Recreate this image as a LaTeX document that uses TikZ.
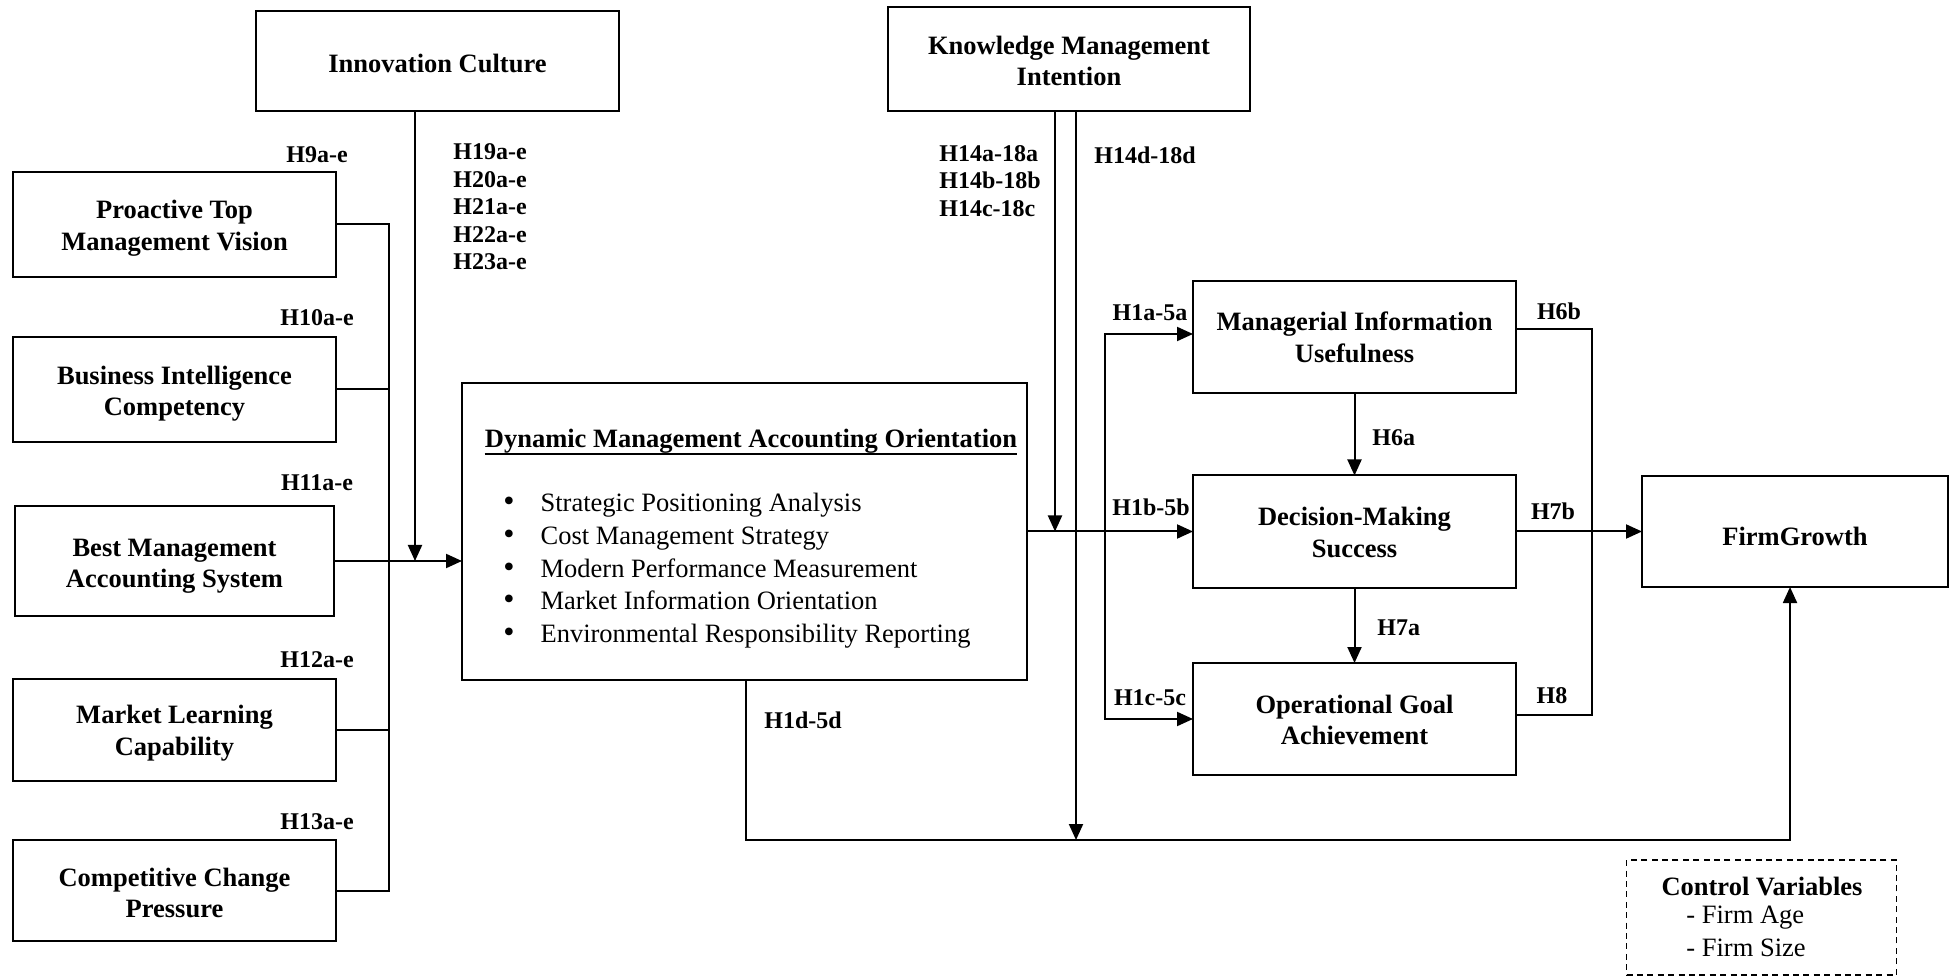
\documentclass[tikz,border=0pt]{standalone}
\usepackage{fontspec}
\setmainfont{Liberation Serif}
\usetikzlibrary{arrows.meta}
% a taller first line pushes box text a little below the box centre
\newcommand\boxlift[1]{\rule{0pt}{#1}}
\begin{document}
\begin{tikzpicture}[x=0.5pt,y=-0.5pt,
  box/.style={draw, line width=1pt, inner sep=0pt, outer sep=0pt, align=center,
    font={\fontsize{13.25pt}{15.8pt}\selectfont\bfseries}},
  hyp/.style={inner sep=0pt, align=left, font={\fontsize{12pt}{13.75pt}\selectfont\bfseries}},
  plain/.style={inner sep=0pt, align=left, font={\fontsize{13.25pt}{16.3pt}\selectfont}},
  link/.style={line width=1pt},
  arr/.style={link, -{Triangle[length=8pt,width=7pt]}}
]
\useasboundingbox (0,0) rectangle (1957,977);

% constructs
\node[box, minimum width=181.5pt, minimum height=50pt] (IC) at (437.5,61) {\boxlift{11.6pt}Innovation Culture};
\node[box, minimum width=181pt, minimum height=52pt] (KMI) at (1069,59) {\boxlift{11pt}Knowledge Management\\Intention};

\node[box, minimum width=161.5pt, minimum height=52.5pt] (P) at (174.5,224.5) {\boxlift{12.9pt}Proactive Top\\Management Vision};
\node[box, minimum width=161.5pt, minimum height=52.5pt] (BI) at (174.5,389.5) {\boxlift{13.5pt}Business Intelligence\\Competency};
\node[box, minimum width=159.5pt, minimum height=55pt] (BMAS) at (174.5,561) {\boxlift{14pt}Best Management\\Accounting System};
\node[box, minimum width=161.5pt, minimum height=51pt] (MLC) at (174.5,730) {\boxlift{12.2pt}Market Learning\\Capability};
\node[box, minimum width=161.5pt, minimum height=50.5pt] (CCP) at (174.5,890.5) {\boxlift{11.6pt}Competitive Change\\Pressure};

\node[box, minimum width=282.5pt, minimum height=148.5pt] (DMAO) at (744.5,531.5) {};
\node[inner sep=0pt, font={\fontsize{13.25pt}{15.8pt}\selectfont\bfseries}] (DMAOtitle) at (751,441.5)
  {Dynamic Management Accounting Orientation};
\draw[line width=1pt] (DMAOtitle.south west) -- (DMAOtitle.south east);
\node[plain, anchor=west] (DMAOlist) at (503,570.5)
  {\begin{tabular}{@{}l@{\hspace{13pt}}l@{}}
   {\fontsize{16pt}{16.3pt}\selectfont\textbullet} & Strategic Positioning Analysis\\
   {\fontsize{16pt}{16.3pt}\selectfont\textbullet} & Cost Management Strategy\\
   {\fontsize{16pt}{16.3pt}\selectfont\textbullet} & Modern Performance Measurement\\
   {\fontsize{16pt}{16.3pt}\selectfont\textbullet} & Market Information Orientation\\
   {\fontsize{16pt}{16.3pt}\selectfont\textbullet} & Environmental Responsibility Reporting
   \end{tabular}};

\node[box, minimum width=161.5pt, minimum height=56pt] (MIU) at (1354.5,337) {\boxlift{9.6pt}Managerial Information\\Usefulness};
\node[box, minimum width=161.5pt, minimum height=56pt] (DMS) at (1354.5,531.5) {\boxlift{10.3pt}Decision-Making\\Success};
\node[box, minimum width=161.5pt, minimum height=56pt] (OGA) at (1354.5,719) {\boxlift{10.3pt}Operational Goal\\Achievement};
\node[box, minimum width=153pt, minimum height=55.5pt] (FG) at (1795,531.5) {\boxlift{14pt}FirmGrowth};

\node[draw, line width=0.9pt, dash pattern=on 3pt off 2.2pt, inner sep=0pt,
      minimum width=135pt, minimum height=57.5pt] (CV) at (1761.5,917.5) {};
\node[inner sep=0pt, font={\fontsize{13.25pt}{15.2pt}\selectfont\bfseries}] (CVhead) at (1762,886.5) {Control Variables};
\node[plain, anchor=west] (CVage) at (1686,917.5) {- Firm Age};
\node[plain, anchor=west] (CVsize) at (1686,947.5) {- Firm Size};

% junction points of the connectors
\coordinate (bus) at (389,561);
\coordinate (icx) at (415,111);
\coordinate (k1) at (1055,111);
\coordinate (k2) at (1076,111);
\coordinate (br) at (1105,531.5);
\coordinate (rb) at (1592,531.5);
\coordinate (dout) at (746,680);
\coordinate (drun) at (746,840);

% antecedents into the orientation
\draw[link] (P.east) -| (bus) |- (CCP.east);
\draw[link] (BI.east) -- (BI.east -| bus);
\draw[link] (MLC.east) -- (MLC.east -| bus);
\draw[arr] (BMAS.east) -- (BMAS.east -| DMAO.west);
\draw[arr] (icx) -- (icx |- BMAS.east);

% orientation to outcomes
\draw[arr] (DMAO.east) -- (DMS.west);
\draw[arr] (br) |- ([yshift=1.5pt]MIU.west);
\draw[arr] (br) |- (OGA.west);
\draw[arr] (MIU.south) -- (DMS.north);
\draw[arr] (DMS.south) -- (OGA.north);
\draw[arr] (DMS.east) -- (FG.west);
\draw[link] ([yshift=4pt]MIU.east) -| (rb) |- ([yshift=2pt]OGA.east);

% moderation by knowledge management intention
\draw[arr] (k1) -- (k1 |- DMAO.east);
\draw[arr] (k2) -- (k2 |- drun);

% direct path to firm growth
\draw[arr] (dout) -- (drun) -| ([xshift=-2.5pt]FG.south);

% hypothesis labels
\node[hyp] (h9) at (317,155) {H9a-e};
\node[hyp] (h10) at (317,318) {H10a-e};
\node[hyp] (h11) at (317,483) {H11a-e};
\node[hyp] (h12) at (317,660) {H12a-e};
\node[hyp] (h13) at (317,822) {H13a-e};
\node[hyp, anchor=west] (h19) at (453,207) {H19a-e\\H20a-e\\H21a-e\\H22a-e\\H23a-e};
\node[hyp, anchor=west] (h14) at (939,181) {H14a-18a\\H14b-18b\\H14c-18c};
\node[hyp, anchor=west] (h14d) at (1094,155) {H14d-18d};
\node[hyp] (h1a) at (1150,313) {H1a-5a};
\node[hyp] (h1b) at (1151,507) {H1b-5b};
\node[hyp] (h1c) at (1150,698) {H1c-5c};
\node[hyp, anchor=west] (h1d) at (764,720) {H1d-5d};
\node[hyp, anchor=west] (h6a) at (1372,438) {H6a};
\node[hyp, anchor=west] (h7a) at (1377,628) {H7a};
\node[hyp] (h6b) at (1559,311) {H6b};
\node[hyp] (h7b) at (1553,511) {H7b};
\node[hyp] (h8) at (1552,696) {H8};
\end{tikzpicture}
\end{document}
